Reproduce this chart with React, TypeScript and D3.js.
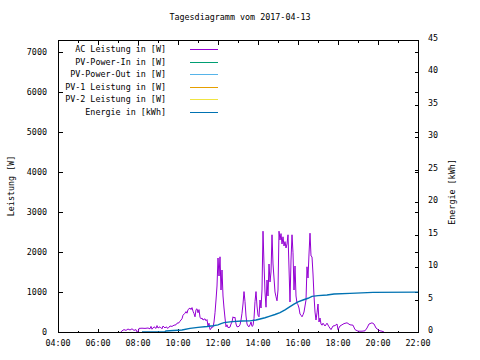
import React from "react";
import * as d3 from "d3";

const title = "Tagesdiagramm vom 2017-04-13";
const xTickLabels = ["04:00", "06:00", "08:00", "10:00", "12:00", "14:00", "16:00", "18:00", "20:00", "22:00"];
const yTicks = [0, 1000, 2000, 3000, 4000, 5000, 6000, 7000];
const y2Ticks = [0, 5, 10, 15, 20, 25, 30, 35, 40, 45];

const legendLabels = [
  "AC Leistung in [W]",
  "PV-Power-In in [W]",
  "PV-Power-Out in [W]",
  "PV-1 Leistung in [W]",
  "PV-2 Leistung in [W]",
  "Energie in [kWh]",
];
const seriesColors = ["#9400d3", "#009e73", "#56b4e9", "#e69f00", "#f0e442", "#0072b2"];

// AC Leistung [W]
const acTimes = [
  "07:09","07:12","07:18","07:24","07:30","07:36","07:42","07:48","07:54","07:57",
  "08:00","08:03","08:12","08:21","08:30","08:36","08:39","08:42","08:48","08:54",
  "08:57","09:00","09:06","09:12","09:15","09:21","09:24","09:30","09:36","09:42",
  "09:48","09:54","09:57","10:03","10:06","10:12","10:15","10:21","10:24","10:27",
  "10:30","10:36","10:39","10:42","10:45","10:48","10:51","10:54","10:57","11:00",
  "11:03","11:06","11:09","11:12","11:15","11:21","11:24","11:27","11:30","11:33",
  "11:36","11:39","11:42","11:45","11:48","11:51","11:54","11:57","12:00","12:03",
  "12:06","12:09","12:12","12:15","12:18","12:21","12:24","12:27","12:30","12:36",
  "12:39","12:42","12:45","12:48","12:51","12:54","12:57","13:03","13:06","13:09",
  "13:12","13:15","13:18","13:21","13:24","13:27","13:30","13:33","13:36","13:39",
  "13:42","13:45","13:48","13:51","13:54","13:57","14:00","14:03","14:06","14:09",
  "14:12","14:15","14:18","14:21","14:24","14:27","14:30","14:33","14:36","14:39",
  "14:42","14:45","14:48","14:51","14:54","14:57","15:00","15:03","15:06","15:09",
  "15:12","15:15","15:18","15:21","15:24","15:27","15:30","15:33","15:36","15:39",
  "15:42","15:45","15:48","15:51","15:54","15:57","16:00","16:03","16:06","16:09",
  "16:12","16:15","16:18","16:21","16:24","16:27","16:30","16:33","16:36","16:39",
  "16:42","16:45","16:48","16:51","16:54","16:57","17:00","17:03","17:06","17:09",
  "17:12","17:15","17:21","17:27","17:33","17:39","17:45","17:51","17:57","18:00",
  "18:06","18:12","18:18","18:27","18:36","18:45","18:51","19:00","19:12","19:21",
  "19:27","19:33","19:42","19:48","19:54","20:00","20:06","20:12","20:18",
];
const acValues = [
  0, 30, 60, 40, 75, 50, 80, 40, 60, 0,
  0, 90, 95, 90, 100, 80, 140, 70, 130, 90,
  160, 100, 130, 80, 150, 100, 130, 90, 150, 140,
  170, 180, 220, 230, 270, 330, 420, 470, 510, 470,
  560, 600, 560, 610, 520, 460, 380, 560, 580, 480,
  560, 370, 330, 350, 300, 330, 280, 310, 150, 220,
  60, 80, 130, 120, 250, 480, 800, 1150, 1850, 1400,
  1880, 1050, 1550, 900, 600, 350, 130, 180, 110, 120,
  200, 250, 380, 350, 370, 200, 130, 140, 180, 300,
  470, 700, 1010, 760, 400, 200, 150, 130, 180, 250,
  140, 160, 340, 760, 1010, 650, 420, 380, 800, 600,
  1050, 2520, 1700, 1000, 620, 1300, 900, 1700, 1250, 1500,
  2430, 1700, 1350, 1000, 880, 780, 1050, 2520, 2300, 2460,
  2200, 2380, 2150, 2260, 2100, 2200, 2430, 1600, 750, 1800,
  2430, 1980, 1050, 1650, 900, 720, 680, 600, 450, 420,
  380, 430, 500, 650, 800, 1630, 1350, 1950, 2470, 1900,
  1880, 1450, 900, 500, 300, 480, 700, 250, 350, 200,
  170, 220, 150, 220, 130, 60, 150, 160, 200, 60,
  150, 180, 210, 230, 180, 170, 60, 20, 20, 30,
  100, 200, 230, 200, 100, 60, 30, 20, 0,
];

// Energie [kWh]
const energyTimes = [
  "08:12","09:21","09:24","10:12","10:36","11:00","11:27","11:45","12:00","12:09",
  "12:18","12:42","13:12","13:36","13:54","14:06","14:21","14:36","14:51","15:06",
  "15:21","15:36","15:48","16:00","16:15","16:30","16:42","17:00","17:27","17:48",
  "18:36","19:45","22:00",
];
const energyValues = [
  0, 0.05, 0.15, 0.3, 0.55, 0.72, 0.85, 0.97, 1.1, 1.3,
  1.45, 1.6, 1.7, 1.72, 1.85, 2.0, 2.2, 2.45, 2.7, 3.0,
  3.4, 3.9, 4.3, 4.65, 4.93, 5.2, 5.5, 5.6, 5.7, 5.86,
  5.96, 6.1, 6.15,
];

const toMin = (t: string) => {
  const [h, m] = t.split(":").map(Number);
  return h * 60 + m;
};

const W = 480;
const H = 360;
const L = 58;
const R = 418;
const T = 40;
const B = 332;
const FONT = "'DejaVu Sans Mono', monospace";
const FS = 8.4;

export default function App() {
  const x = d3.scaleLinear().domain([toMin("04:00"), toMin("22:00")]).range([L, R]);
  const y = d3.scaleLinear().domain([0, 7300]).range([B, T]);
  const y2 = d3.scaleLinear().domain([0, 45]).range([B, T]);

  const acData = acTimes.map((t, i) => [toMin(t), acValues[i]] as [number, number]);
  const enData = energyTimes.map((t, i) => [toMin(t), energyValues[i]] as [number, number]);

  const acLine = d3.line<[number, number]>().x((d) => x(d[0])).y((d) => y(d[1]));
  const enLine = d3.line<[number, number]>().x((d) => x(d[0])).y((d) => y2(d[1]));

  const hourTicks = d3.range(toMin("04:00"), toMin("22:00") + 1, 60);
  const majorSet = new Set(xTickLabels.map(toMin));

  const legendY = (i: number) => 49 + i * 12.5;

  return (
    <svg width={W} height={H} style={{ position: "absolute", left: 0, top: 0, background: "#fff" }}
      fontFamily={FONT} fontSize={FS}>
      <rect x={0} y={0} width={W} height={H} fill="#fff" />
      <text x={W / 2} y={20} textAnchor="middle">{title}</text>

      {/* x ticks */}
      <g stroke="#000" strokeWidth={1} shapeRendering="crispEdges">
        {hourTicks.map((m) => {
          const len = majorSet.has(m) ? 4 : 2;
          const xx = Math.round(x(m)) + 0.5;
          return (
            <g key={m}>
              <line x1={xx} x2={xx} y1={B + 0.5} y2={B + 0.5 - len} />
              <line x1={xx} x2={xx} y1={T + 0.5} y2={T + 0.5 + len} />
            </g>
          );
        })}
        {yTicks.map((v) => {
          const yy = Math.round(y(v)) + 0.5;
          return (
            <g key={v}>
              <line x1={L + 0.5} x2={L + 4.5} y1={yy} y2={yy} />
              <line x1={R + 0.5} x2={R - 3.5} y1={yy} y2={yy} />
            </g>
          );
        })}
        {y2Ticks.map((v) => {
          const yy = Math.round(y2(v)) + 0.5;
          return <line key={v} x1={R + 0.5} x2={R - 3.5} y1={yy} y2={yy} />;
        })}
      </g>

      {/* tick labels */}
      {xTickLabels.map((t) => (
        <text key={t} x={x(toMin(t))} y={346} textAnchor="middle">{t}</text>
      ))}
      {yTicks.map((v) => (
        <text key={v} x={47} y={y(v) + 2.5} textAnchor="end">{v}</text>
      ))}
      {y2Ticks.map((v) => (
        <text key={v} x={428} y={y2(v) + 1} textAnchor="start">{v}</text>
      ))}

      <text transform={`translate(14,${(T + B) / 2}) rotate(-90)`} textAnchor="middle">Leistung [W]</text>
      <text transform={`translate(455,${(T + B) / 2 + 6}) rotate(-90)`} textAnchor="middle">Energie [kWh]</text>

      {/* legend */}
      {legendLabels.map((lab, i) => (
        <g key={lab}>
          <text x={166} y={legendY(i) + 3} textAnchor="end">{lab}</text>
          <line x1={190} x2={218} y1={Math.round(legendY(i)) + 0.5} y2={Math.round(legendY(i)) + 0.5}
            stroke={seriesColors[i]} strokeWidth={1} shapeRendering="crispEdges" />
        </g>
      ))}

      {/* data */}
      <path d={acLine(acData) || ""} fill="none" stroke={seriesColors[0]} strokeWidth={1} />
      <path d={enLine(enData) || ""} fill="none" stroke={seriesColors[5]} strokeWidth={1.4} />

      {/* border */}
      <rect x={L + 0.5} y={T + 0.5} width={R - L} height={B - T} fill="none" stroke="#000" strokeWidth={1}
        shapeRendering="crispEdges" />
    </svg>
  );
}
